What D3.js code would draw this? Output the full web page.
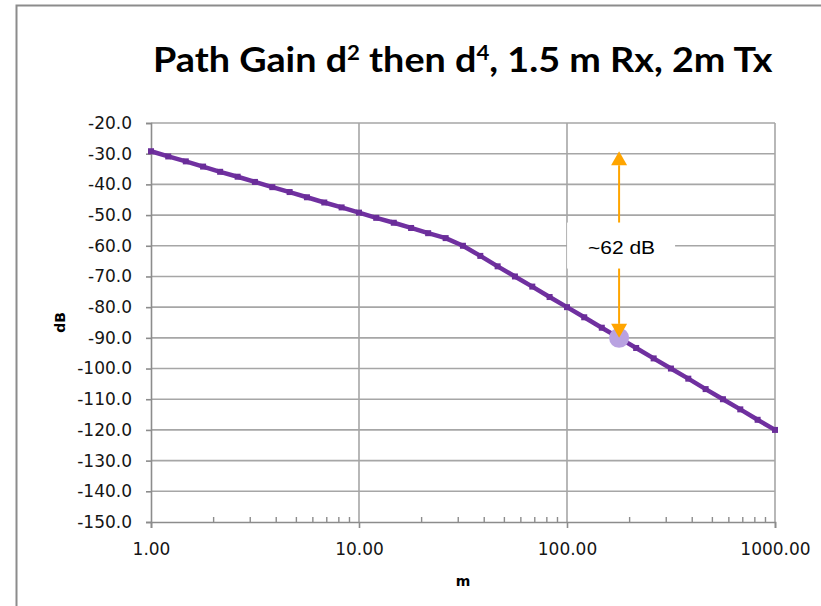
<!DOCTYPE html>
<html>
<head>
<meta charset="utf-8">
<script src="https://cdn.jsdelivr.net/npm/d3@7"></script>
<style>
  html, body { margin: 0; padding: 0; background: #fff; }
  svg { display: block; }
</style>
</head>
<body>
<svg id="chart" width="821" height="606"></svg>
<script>
// Sample distances (m), 12 per decade from 1 m to 1000 m
const distances = [
  1.00, 1.21, 1.47, 1.78, 2.15, 2.61, 3.16, 3.83, 4.64, 5.62, 6.81, 8.25,
  10.0, 12.1, 14.7, 17.8, 21.5, 26.1, 31.6, 38.3, 46.4, 56.2, 68.1, 82.5,
  100, 121, 147, 178, 215, 261, 316, 383, 464, 562, 681, 825, 1000
];
// Path gain (dB) at each distance
const pathGain = [
  -29.2, -30.9, -32.5, -34.2, -35.9, -37.5, -39.2, -40.9, -42.5, -44.2, -45.9, -47.5,
  -49.2, -50.9, -52.5, -54.2, -55.9, -57.5, -60.0, -63.3, -66.7, -70.0, -73.3, -76.7,
  -80.0, -83.3, -86.7, -90.0, -93.3, -96.7, -100.0, -103.3, -106.7, -110.0, -113.3, -116.7, -120.0
];
// Highlighted sample and the gain drop annotation
const highlightIndex = 27;
const dropLabel = "~62 dB";

const yTicks = [-20, -30, -40, -50, -60, -70, -80, -90, -100, -110, -120, -130, -140, -150];
const yTickLabels = ["-20.0", "-30.0", "-40.0", "-50.0", "-60.0", "-70.0", "-80.0", "-90.0",
                     "-100.0", "-110.0", "-120.0", "-130.0", "-140.0", "-150.0"];
const xTicks = [1, 10, 100, 1000];
const xTickLabels = ["1.00", "10.00", "100.00", "1000.00"];

const svg = d3.select("#chart");

// Chart frame
svg.append("rect")
  .attr("x", 16.5).attr("y", 5.5)
  .attr("width", 820).attr("height", 620)
  .attr("fill", "#fff")
  .attr("stroke", "#8c8c8c").attr("stroke-width", 2);

const x = d3.scaleLog().domain([1, 1000]).range([151, 775]);
const y = d3.scaleLinear().domain([-150, -20]).range([522, 123]);

const gridColor = "#a6a6a6";

// Horizontal grid
svg.append("g").selectAll("line")
  .data(yTicks.filter(v => v !== -150))
  .join("line")
  .attr("x1", x.range()[0]).attr("x2", x.range()[1])
  .attr("y1", d => y(d)).attr("y2", d => y(d))
  .attr("stroke", gridColor).attr("stroke-width", 1.6);

// Vertical grid at each decade
svg.append("g").selectAll("line")
  .data(xTicks.filter(v => v !== 1))
  .join("line")
  .attr("x1", d => x(d)).attr("x2", d => x(d))
  .attr("y1", y.range()[1]).attr("y2", y.range()[0])
  .attr("stroke", gridColor).attr("stroke-width", 1.6);

const tickFont = "DejaVu Sans, Verdana, sans-serif";

// Y axis
const yAxis = svg.append("g")
  .attr("transform", `translate(${x.range()[0]},0)`)
  .call(d3.axisLeft(y).tickValues(yTicks)
    .tickFormat((d, i) => yTickLabels[i]).tickSize(5).tickPadding(14));
yAxis.select(".domain").attr("stroke", "#8c8c8c").attr("stroke-width", 1.6);
yAxis.selectAll(".tick line").attr("stroke", "#8c8c8c").attr("stroke-width", 1.6);
yAxis.selectAll("text")
  .attr("font-family", tickFont)
  .attr("font-size", 17).attr("fill", "#151515");

// X axis
const xAxis = svg.append("g")
  .attr("transform", `translate(0,${y.range()[0]})`)
  .call(d3.axisBottom(x).tickValues(xTicks)
    .tickFormat((d, i) => xTickLabels[i]).tickSize(6).tickPadding(15));
xAxis.select(".domain").attr("stroke", "#8c8c8c").attr("stroke-width", 1.6);
xAxis.selectAll(".tick line").attr("stroke", "#8c8c8c").attr("stroke-width", 1.6);
xAxis.selectAll("text")
  .attr("font-family", tickFont)
  .attr("font-size", 17).attr("fill", "#151515");

// Minor ticks (2..9 within each decade), pointing into the plot
const minorTicks = [];
[1, 10, 100].forEach(dec => { for (let m = 2; m <= 9; m++) minorTicks.push(m * dec); });
svg.append("g").selectAll("line")
  .data(minorTicks)
  .join("line")
  .attr("x1", d => x(d)).attr("x2", d => x(d))
  .attr("y1", y.range()[0]).attr("y2", y.range()[0] - 5)
  .attr("stroke", "#8c8c8c").attr("stroke-width", 1.4);

// Axis titles
svg.append("text")
  .attr("transform", `translate(65,${(y.range()[0] + y.range()[1]) / 2}) rotate(-90)`)
  .attr("text-anchor", "middle")
  .attr("font-family", tickFont)
  .attr("font-weight", "bold").attr("font-size", 14)
  .text("dB");
svg.append("text")
  .attr("x", (x.range()[0] + x.range()[1]) / 2).attr("y", 586)
  .attr("text-anchor", "middle")
  .attr("font-family", tickFont)
  .attr("font-weight", "bold").attr("font-size", 14)
  .text("m");

// Title with superscript exponents, stretched to span the plot width
const title = svg.append("text")
  .attr("x", 0).attr("y", 0)
  .attr("font-family", "Lato, 'Open Sans', sans-serif")
  .attr("font-weight", "bold").attr("font-size", 34)
  .attr("fill", "#000");
title.append("tspan").text("Path Gain d");
title.append("tspan").attr("dy", -12).attr("font-size", 20).text("2");
title.append("tspan").attr("dy", 12).text(" then d");
title.append("tspan").attr("dy", -12).attr("font-size", 20).text("4");
title.append("tspan").attr("dy", 12).text(", 1.5 m Rx, 2m Tx");
const tb = title.node().getBBox();
const titleWidth = 620, titleLeft = 153;
title.attr("transform", `translate(${titleLeft},72) scale(${titleWidth / tb.width},1) translate(${-tb.x},0)`);

// Path gain line with square markers
const purple = "#7030a0";
svg.append("path")
  .datum(distances.map((d, i) => [d, pathGain[i]]))
  .attr("fill", "none")
  .attr("stroke", purple).attr("stroke-width", 4.5)
  .attr("stroke-linejoin", "round")
  .attr("d", d3.line().x(d => x(d[0])).y(d => y(d[1])));

svg.append("g").selectAll("rect")
  .data(distances.map((d, i) => [d, pathGain[i]]))
  .join("rect")
  .attr("x", d => x(d[0]) - 3).attr("y", d => y(d[1]) - 3)
  .attr("width", 6).attr("height", 6)
  .attr("fill", "#6a2d99");

// Highlighted sample
const hx = x(distances[highlightIndex]);
const hy = y(pathGain[highlightIndex]);
svg.append("circle")
  .attr("cx", hx).attr("cy", hy).attr("r", 10)
  .attr("fill", "#b9a2e1");

// Double arrow from the 1 m gain down to the highlighted sample
const orange = "#ffa500";
const topY = y(pathGain[0]);
const botY = hy;
const headL = 14, headW = 8;
svg.append("line")
  .attr("x1", hx).attr("x2", hx)
  .attr("y1", topY + headL).attr("y2", botY - headL)
  .attr("stroke", orange).attr("stroke-width", 2);
svg.append("path")
  .attr("d", `M${hx},${topY} L${hx - headW},${topY + headL} L${hx + headW},${topY + headL} Z`)
  .attr("fill", orange);
svg.append("path")
  .attr("d", `M${hx},${botY} L${hx - headW},${botY - headL} L${hx + headW},${botY - headL} Z`)
  .attr("fill", orange);

// Label box
const midY = (topY + botY) / 2 + 1;
svg.append("rect")
  .attr("x", hx - 52).attr("y", midY - 23)
  .attr("width", 108).attr("height", 46)
  .attr("fill", "#fff");
svg.append("text")
  .attr("x", hx + 2.5).attr("y", midY + 8)
  .attr("text-anchor", "middle")
  .attr("font-family", "Liberation Sans, Arial, sans-serif")
  .attr("font-size", 18.5)
  .attr("textLength", 67).attr("lengthAdjust", "spacingAndGlyphs")
  .attr("fill", "#000")
  .text(dropLabel);
</script>
</body>
</html>
